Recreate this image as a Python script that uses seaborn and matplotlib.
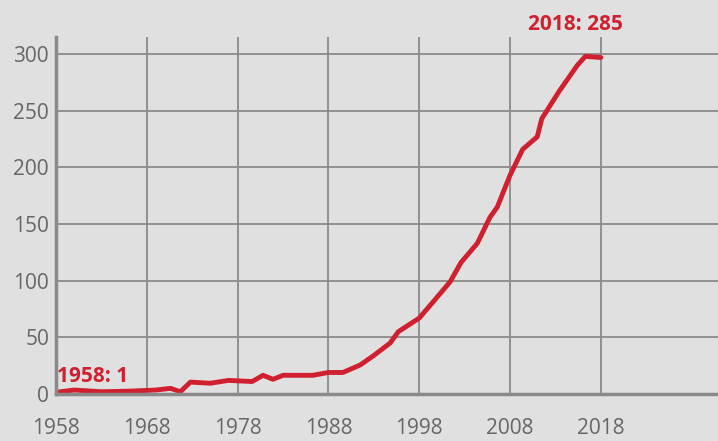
import numpy as np
import seaborn as sns
import pandas as pd
import matplotlib.pyplot as plt

# values
years = [1958, 1960, 1963, 1966, 1969, 1970.6, 1971.7, 1972.8, 1975, 1977,
         1979.6, 1980.8, 1981.9, 1983, 1986.3, 1988, 1989.6, 1991.5, 1993,
         1994.8, 1995.7, 1998, 1999.5, 2001.4, 2002.6, 2004.4, 2005.8, 2006.6,
         2008, 2009.4, 2011, 2011.5, 2013.4, 2015.4, 2016.3, 2018]
values = [1.5, 3.5, 2, 2.5, 3.5, 5, 2, 10.5, 9.5, 12,
          11, 16.5, 13, 16.5, 16.5, 19, 19, 25.6, 34,
          45, 55, 67, 81, 99, 116, 133, 156, 165,
          193, 216, 227, 243, 267, 290, 298, 297]
xticks = [1958, 1968, 1978, 1988, 1998, 2008, 2018]
yticks = [0, 50, 100, 150, 200, 250, 300]
start_label = '1958: 1'
end_label = '2018: 285'

red = '#d0202f'
grey = '#8a8a8a'
bg = '#e0e0e0'

sns.set_theme(style='whitegrid')
plt.rcParams['font.family'] = ['Open Sans', 'DejaVu Sans']

df = pd.DataFrame({'Year': years, 'Value': values})

fig = plt.figure(figsize=(7.18, 4.41), dpi=100, facecolor=bg)
ax = fig.add_axes([56 / 718, 47 / 441, 1 - 56 / 718, (394 - 37) / 441])
ax.set_facecolor(bg)

sns.lineplot(data=df, x='Year', y='Value', color=red, linewidth=3.5, ax=ax)

ax.set_xlim(1958, 1958 + (718 - 56) / 9.08)
ax.set_ylim(0, (394 - 37) / 1.133)
ax.set_xticks(xticks)
ax.set_yticks(yticks)
ax.set_xlabel('')
ax.set_ylabel('')

ax.grid(True, color=grey, linewidth=1.3)
ax.set_axisbelow(True)
for s in ['top', 'right']:
    ax.spines[s].set_visible(False)
for s in ['left', 'bottom']:
    ax.spines[s].set_visible(True)
    ax.spines[s].set_color(grey)
    ax.spines[s].set_linewidth(2.5)

ax.tick_params(axis='both', length=0, labelsize=15, labelcolor='#666666')
ax.tick_params(axis='y', pad=5)
ax.tick_params(axis='x', pad=17.5)

ax.text(1958.1, 10.5, start_label, color=red, fontsize=15, fontweight='bold',
        ha='left', va='baseline')
ax.text(2015.2, 326, end_label, color=red, fontsize=15, fontweight='bold',
        ha='center', va='center', clip_on=False)

fig.savefig('out.png', dpi=100, facecolor=bg)
